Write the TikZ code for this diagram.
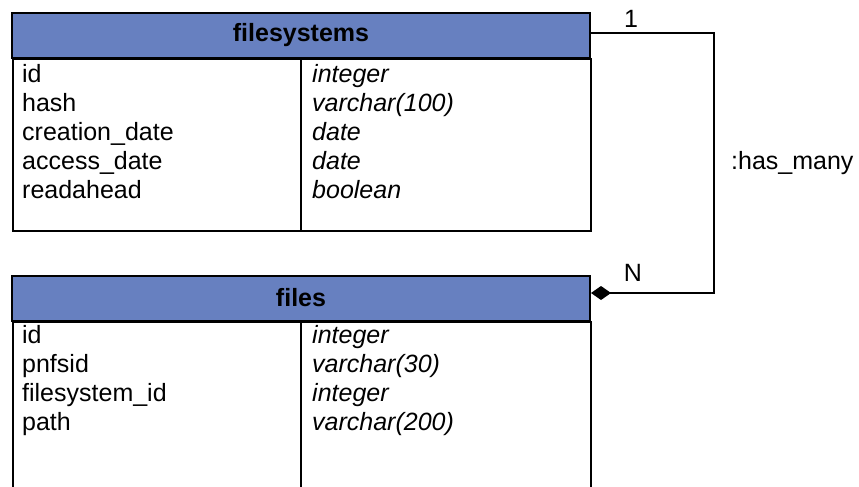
\documentclass[tikz,border=0pt]{standalone}
\usepackage{fontspec}
\setmainfont{Liberation Sans}
\usetikzlibrary{arrows.meta}
\definecolor{hdrblue}{RGB}{103,128,192}
\begin{document}
\begin{tikzpicture}[x=1pt,y=-1pt,
  tabbody/.style={draw=black,line width=2pt,fill=white,anchor=north west,minimum width=578pt,inner sep=0pt},
  tabhead/.style={draw=black,line width=2pt,fill=hdrblue,minimum width=578pt,minimum height=45pt,inner sep=0pt,font=\fontsize{25}{29}\selectfont\bfseries},
  fieldname/.style={anchor=base west,inner sep=0pt,font=\fontsize{25}{29}\selectfont},
  fieldtype/.style={anchor=base west,inner sep=0pt,font=\fontsize{25}{29}\selectfont\itshape},
  lbl/.style={inner sep=0pt,font=\fontsize{25}{29}\selectfont},
  conn/.style={draw=black,line width=2pt}]
\useasboundingbox (0,0) rectangle (859,487);
\clip (0,0) rectangle (859,487);
% filesystems table
\node[tabbody,minimum height=172pt] (fsb) at (12,58) {};
\draw[line width=2pt] ([xshift=289pt]fsb.north west) -- ([xshift=289pt]fsb.south west);
\node[tabhead] (fsh) at (301,35.5) {filesystems};
\node[fieldname] (f1) at (22,82) {id};
\node[fieldname] (f2) at (22,111) {hash};
\node[fieldname] (f3) at (22,140.5) {creation\_date};
\node[fieldname] (f4) at (22,169.5) {access\_date};
\node[fieldname] (f5) at (22,198.5) {readahead};
\node[fieldtype] (t1) at (312,82) {integer};
\node[fieldtype] (t2) at (312,111) {varchar(100)};
\node[fieldtype] (t3) at (312,140.5) {date};
\node[fieldtype] (t4) at (312,169.5) {date};
\node[fieldtype] (t5) at (312,198.5) {boolean};
% files table
\node[tabbody,minimum height=200pt] (fb) at (12,321) {};
\draw[line width=2pt] ([xshift=289pt]fb.north west) -- ([xshift=289pt]fb.south west);
\node[tabhead] (fh) at (301,298) {files};
\node[fieldname] (g1) at (22,343) {id};
\node[fieldname] (g2) at (22,372) {pnfsid};
\node[fieldname] (g3) at (22,401) {filesystem\_id};
\node[fieldname] (g4) at (22,430) {path};
\node[fieldtype] (u1) at (312,343) {integer};
\node[fieldtype] (u2) at (312,372) {varchar(30)};
\node[fieldtype] (u3) at (312,401) {integer};
\node[fieldtype] (u4) at (312,430) {varchar(200)};
% connector
\coordinate (bend) at (714,33);
\draw[conn,-{Diamond[length=20pt,width=14pt]}] ([yshift=2.5pt]fsh.east) -- (bend) |- ([yshift=5pt]fh.east);
\node[lbl] (one) at (631,19) {1};
\node[lbl] (many) at (633,273) {N};
\node[lbl,anchor=west] (rel) at (731,163) {:has\_many};
\end{tikzpicture}
\end{document}
